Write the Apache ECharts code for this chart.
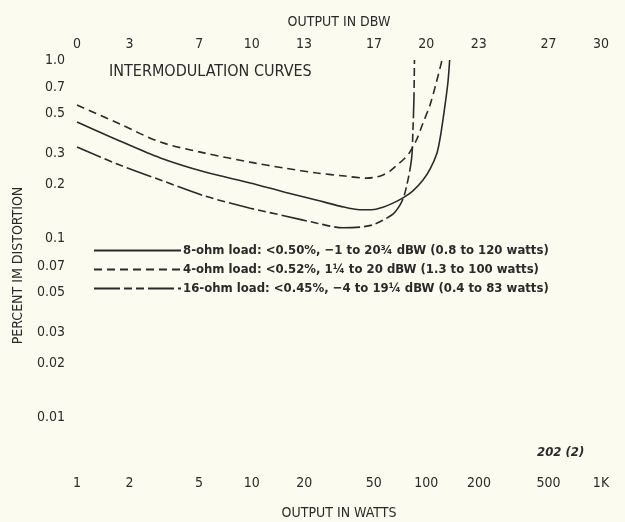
<!DOCTYPE html>
<html>
<head>
<meta charset="utf-8">
<script src="https://cdn.jsdelivr.net/npm/echarts@6/dist/echarts.min.js"></script>
<style>
html,body{margin:0;padding:0;background:#fbfbef;}
#chart{width:625px;height:522px;}
</style>
</head>
<body>
<div id="chart"></div>
<script>
// values: watts on x, percent IM distortion on y
var wattTicks = [1, 2, 5, 10, 20, 50, 100, 200, 500, 1000];
var wattLabels = ['1', '2', '5', '10', '20', '50', '100', '200', '500', '1K'];
var dbwTicks = [0, 3, 7, 10, 13, 17, 20, 23, 27, 30];
var pctTicks = [1.0, 0.7, 0.5, 0.3, 0.2, 0.1, 0.07, 0.05, 0.03, 0.02, 0.01];
var pctLabels = ['1.0', '0.7', '0.5', '0.3', '0.2', '0.1', '0.07', '0.05', '0.03', '0.02', '0.01'];

var load8Watts = [1, 1.76, 3.0, 5.41, 9.8, 15.5, 23.7, 32.0, 41.7, 48.8, 56.5, 64.4, 73.5, 83.8, 95.7, 105, 115, 120, 124, 128, 133, 136];
var load8Pct   = [0.45, 0.352, 0.283, 0.236, 0.205, 0.182, 0.164, 0.152, 0.145, 0.145, 0.150, 0.158, 0.169, 0.185, 0.213, 0.245, 0.301, 0.366, 0.450, 0.56, 0.753, 1.0];

var load4Watts = [1, 1.76, 3.0, 5.41, 9.8, 15.5, 23.7, 34.2, 45.7, 51.5, 56.5, 61.9, 67.9, 74.5, 80.5, 88.3, 95.7, 105, 113.5, 123];
var load4Pct   = [0.56, 0.438, 0.347, 0.301, 0.268, 0.248, 0.233, 0.224, 0.218, 0.221, 0.227, 0.239, 0.258, 0.279, 0.305, 0.361, 0.444, 0.56, 0.734, 1.0];

var load16Watts = [1, 1.76, 3.0, 5.41, 9.8, 15.5, 23.7, 33.3, 41.7, 48.8, 56.5, 64.4, 70.6, 74.5, 77.4, 80.5, 82.7, 83.8, 84.9, 85.5];
var load16Pct   = [0.326, 0.258, 0.213, 0.173, 0.148, 0.134, 0.122, 0.115, 0.116, 0.119, 0.127, 0.137, 0.154, 0.173, 0.200, 0.242, 0.294, 0.406, 0.597, 1.0];

var legendNames = [
  '8-ohm load: <0.50%, \u22121 to 20\u00be dBW (0.8 to 120 watts)',
  '4-ohm load: <0.52%, 1\u00bc to 20 dBW (1.3 to 100 watts)',
  '16-ohm load: <0.45%, \u22124 to 19\u00bc dBW (0.4 to 83 watts)'
];

var font = '"Liberation Sans Narrow", "DejaVu Sans Condensed", "Roboto", sans-serif';
var ink = '#2a2a2a';

function toDb(w){ return 10 * Math.log10(w); }
function pairs(ws, ps){
  var out = [];
  for(var i=0;i<ws.length;i++){
    out.push([toDb(ws[i]), Math.log10(ps[i])]);
  }
  return out;
}
function nearest(vals, v){
  var best = 0;
  for(var i=1;i<vals.length;i++){
    if(Math.abs(vals[i]-v) < Math.abs(vals[best]-v)) best = i;
  }
  return best;
}

var wattDb = wattTicks.map(toDb);
var pctLog = pctTicks.map(function(p){ return Math.log10(p); });

var chart = echarts.init(document.getElementById('chart'));

var option = {
  backgroundColor: '#fbfbef',
  animation: false,
  textStyle: { fontFamily: font, color: ink },
  title: [
    {
      text: 'INTERMODULATION CURVES',
      left: 109, top: 64, padding: 0,
      textStyle: { fontFamily: font, fontSize: 16, fontWeight: 'normal', color: ink }
    },
    {
      text: '202 (2)',
      left: 537, top: 446, padding: 0,
      textStyle: { fontFamily: font, fontSize: 13, fontStyle: 'italic', fontWeight: 'bold', color: ink }
    }
  ],
  legend: {
    orient: 'vertical',
    left: 88, top: 239,
    itemWidth: 87, itemHeight: 8, itemGap: 6,
    data: legendNames,
    itemStyle: { opacity: 0 },
    textStyle: { fontFamily: font, fontSize: 13, fontWeight: 'bold', color: ink, padding: [0,0,0,-3] }
  },
  grid: { left: 77, right: 24, top: 60, bottom: 51, outerBoundsMode: 'none' },
  xAxis: [
    {
      type: 'value', position: 'bottom',
      min: 0, max: 30,
      name: 'OUTPUT IN WATTS', nameLocation: 'middle', nameGap: 35,
      nameTextStyle: { fontFamily: font, fontSize: 14, color: ink },
      axisLine: { show: false }, axisTick: { show: false }, splitLine: { show: false },
      axisLabel: {
        customValues: wattDb, margin: 5,
        fontFamily: font, fontSize: 14, color: ink,
        formatter: function(v){ return wattLabels[nearest(wattDb, v)]; }
      }
    },
    {
      type: 'value', position: 'top',
      min: 0, max: 30,
      name: 'OUTPUT IN DBW', nameLocation: 'middle', nameGap: 31,
      nameTextStyle: { fontFamily: font, fontSize: 14, color: ink },
      axisLine: { show: false }, axisTick: { show: false }, splitLine: { show: false },
      axisLabel: {
        customValues: dbwTicks, margin: 9,
        fontFamily: font, fontSize: 14, color: ink,
        formatter: function(v){ return String(dbwTicks[nearest(dbwTicks, v)]); }
      }
    }
  ],
  yAxis: {
    type: 'value',
    min: Math.log10(0.005), max: 0,
    name: 'PERCENT IM DISTORTION', nameLocation: 'middle', nameGap: 52,
    nameTextStyle: { fontFamily: font, fontSize: 14, color: ink },
    axisLine: { show: false }, axisTick: { show: false }, splitLine: { show: false },
    axisLabel: {
      customValues: pctLog, margin: 12,
      fontFamily: font, fontSize: 14, color: ink,
      formatter: function(v){ return pctLabels[nearest(pctLog, v)]; }
    }
  },
  series: [
    {
      name: legendNames[0], type: 'line', symbol: 'none',
      smooth: 0.3,
      lineStyle: { color: ink, width: 1.6, type: 'solid' },
      itemStyle: { color: ink },
      data: pairs(load8Watts, load8Pct)
    },
    {
      name: legendNames[1], type: 'line', symbol: 'none',
      smooth: 0.3,
      lineStyle: { color: ink, width: 1.6, type: [8, 5] },
      itemStyle: { color: ink },
      data: pairs(load4Watts, load4Pct)
    },
    {
      name: legendNames[2], type: 'line', symbol: 'none',
      smooth: 0.3,
      lineStyle: { color: ink, width: 1.6, type: [26, 4, 8, 4, 8, 4] },
      itemStyle: { color: ink },
      data: pairs(load16Watts, load16Pct)
    }
  ]
};

chart.setOption(option);
window.onresize = chart.resize;
</script>
</body>
</html>
